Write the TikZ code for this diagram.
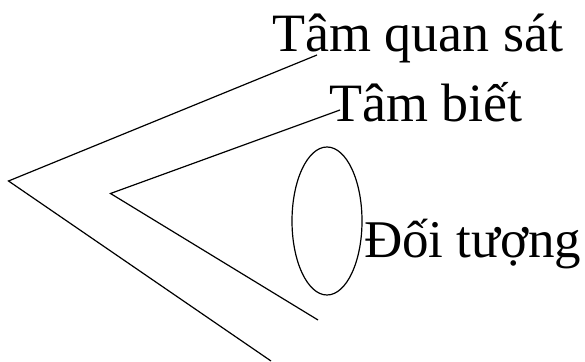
\documentclass[tikz,border=0pt]{standalone}
\usepackage{fontspec}
\setmainfont{Liberation Serif}
\usetikzlibrary{shapes.geometric}
\begin{document}
\begin{tikzpicture}[x=1pt,y=1pt,
  line/.style={draw=black,line width=1.2pt,line join=miter},
  label/.style={inner sep=0pt,anchor=base west,font=\fontsize{54}{60}\selectfont}]
\useasboundingbox (0,0) rectangle (585,361);
% outer chevron
\coordinate (oa) at (317,306);
\coordinate (ob) at (8.5,180);
\coordinate (oc) at (271,0);
% inner chevron
\coordinate (ia) at (340,251);
\coordinate (ib) at (110.5,167.5);
\coordinate (ic) at (318,41);
\draw[line] (oa) -- (ob) -- (oc);
\draw[line] (ia) -- (ib) -- (ic);
% object
\node[draw,line width=1.2pt,ellipse,minimum width=70pt,minimum height=148pt,inner sep=0pt] (obj) at (327,140) {};
% labels
\node[label] (t1) at (272,309) {Tâm quan sát};
\node[label] (t2) at (329,239) {Tâm biết};
\node[label,font=\fontsize{53}{60}\selectfont] (t3) at (364,103) {Đối tượng};
\end{tikzpicture}
\end{document}
